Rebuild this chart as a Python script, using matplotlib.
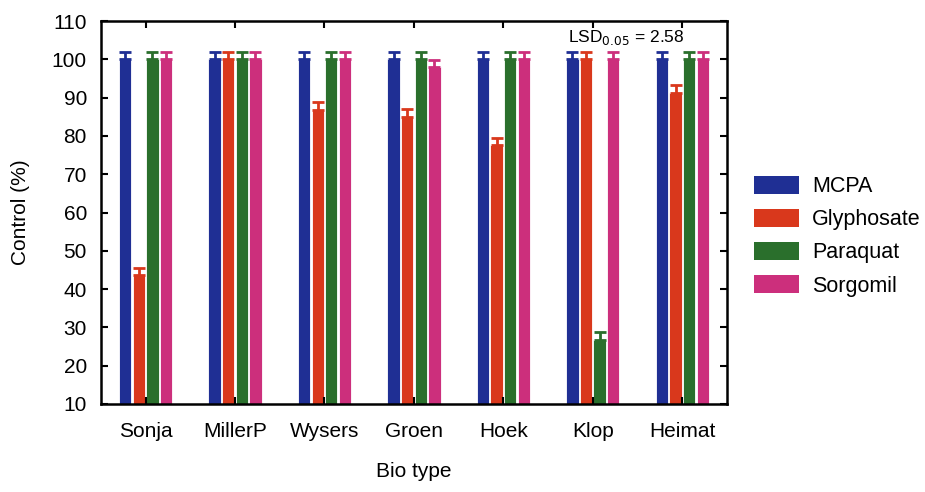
import numpy as np
import matplotlib.pyplot as plt
from matplotlib.patches import Patch

plt.rcParams['font.family'] = ['Liberation Sans', 'DejaVu Sans']

biotypes = ["Sonja", "MillerP", "Wysers", "Groen", "Hoek", "Klop", "Heimat"]
herbicides = ["MCPA", "Glyphosate", "Paraquat", "Sorgomil"]
colors = ["#1f2f94", "#d9381c", "#2a6f2c", "#cc2f7c"]

mcpa = [100, 100, 100, 100, 100, 100, 100]
glyphosate = [43.6, 100, 86.8, 85, 77.6, 100, 91.3]
paraquat = [100, 100, 100, 100, 100, 26.8, 100]
sorgomil = [100, 100, 100, 97.9, 100, 100, 100]
err = [2, 2, 2, 2]

values = [mcpa, glyphosate, paraquat, sorgomil]

fig = plt.figure(figsize=(9.25, 4.92), dpi=100)
ax = fig.add_axes([0.109, 0.179, 0.677, 0.778])

x = np.arange(len(biotypes))
w = 0.138
step = 0.152
base = 10
for i, (vals, c) in enumerate(zip(values, colors)):
    pos = x + (i - 1.5) * step
    h = np.array(vals) - base
    ax.bar(pos, h, width=w, bottom=base, color=c, edgecolor="white", linewidth=0.6)
    ax.errorbar(pos, vals, yerr=[np.zeros(len(vals)), np.full(len(vals), err[i])],
                fmt="none", ecolor=c, elinewidth=2, capsize=4.5, capthick=2)

ax.set_xlim(-0.5, 6.5)
ax.set_ylim(10, 110)
ax.set_yticks(np.arange(10, 111, 10))
ax.set_xticks(x)
ax.set_xticklabels(biotypes)
ax.tick_params(axis="both", direction="in", top=True, right=True, width=1.5, length=5,
               labelsize=15)
ax.tick_params(axis="y", pad=10)
ax.tick_params(axis="x", pad=13)
for s in ax.spines.values():
    s.set_linewidth(1.8)

ax.set_xlabel("Bio type", fontsize=15, labelpad=15)
ax.set_ylabel("Control (%)", fontsize=15, labelpad=16)

ax.text(4.72, 105.8, r"LSD$_{0.05}$ = 2.58", fontsize=12.5, ha="left", va="center")

handles = [Patch(facecolor=c, edgecolor="none") for c in colors]
fig.legend(handles, herbicides, loc="center left", bbox_to_anchor=(0.794, 0.52),
           frameon=False, fontsize=15.5, handlelength=2.1, handleheight=0.9,
           labelspacing=0.55, handletextpad=0.6)

fig.savefig("out.png", dpi=100)
